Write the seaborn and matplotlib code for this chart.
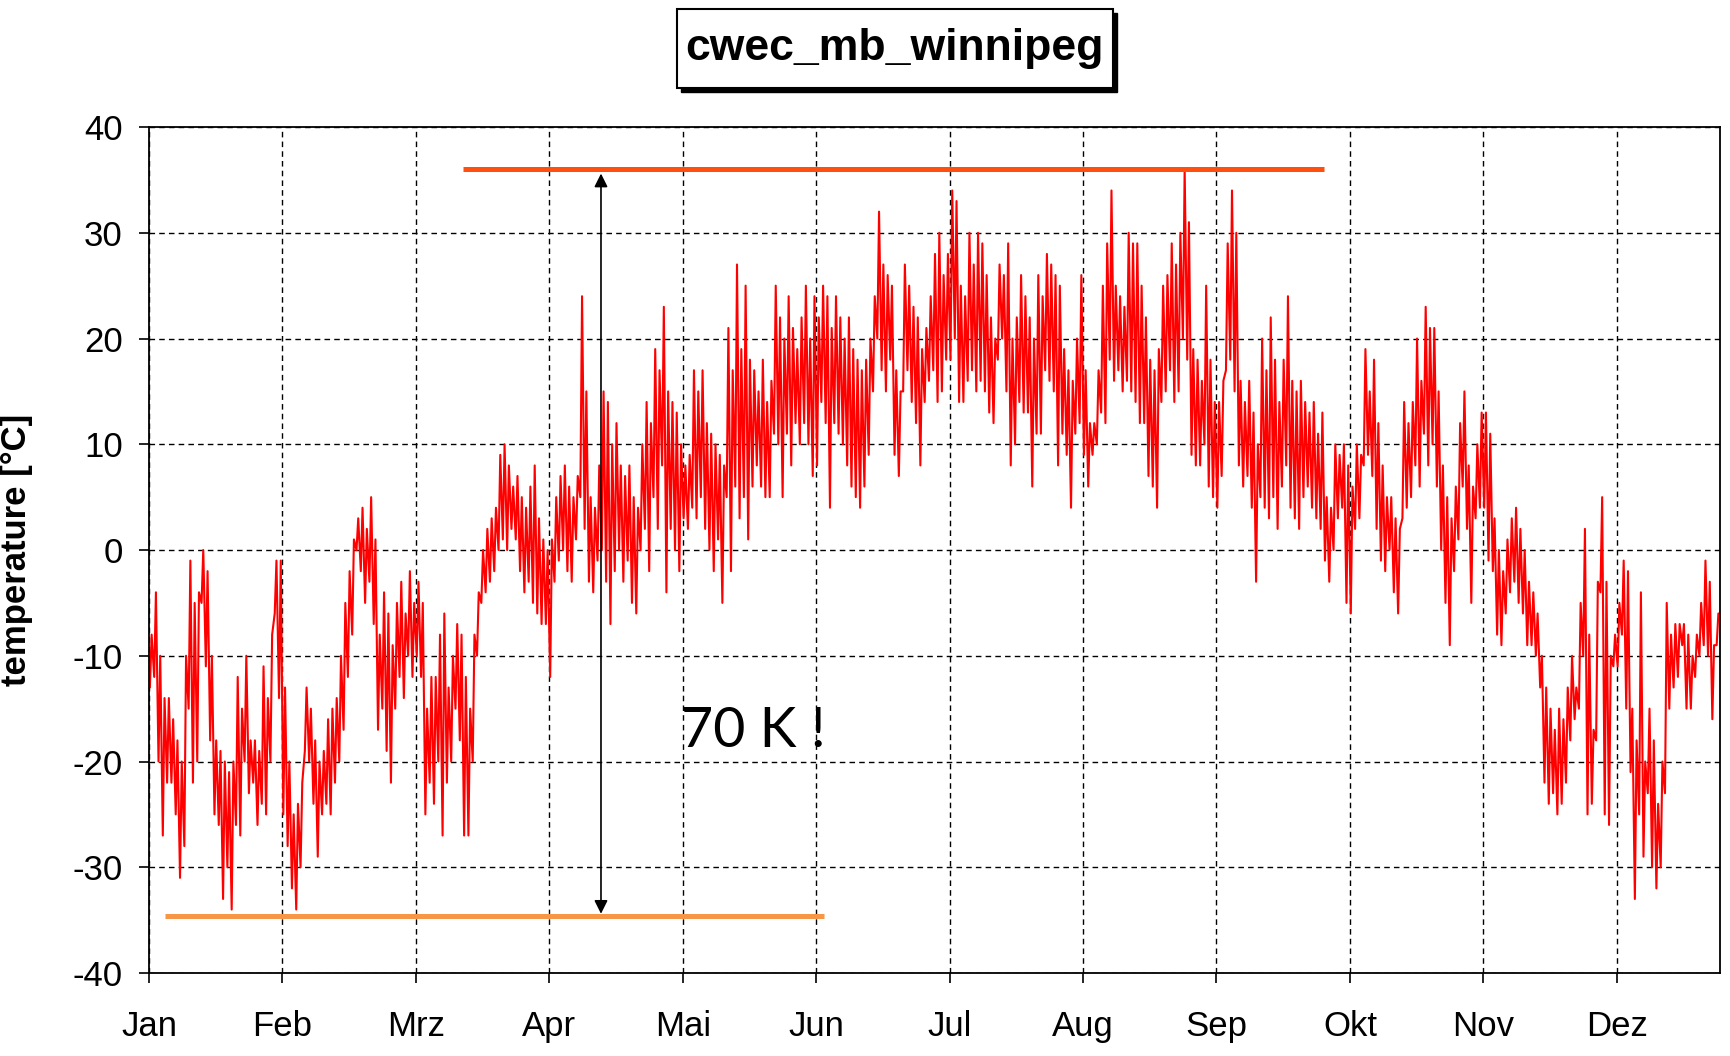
import numpy as np
import pandas as pd
import matplotlib
matplotlib.use("Agg")
import matplotlib.pyplot as plt
import seaborn as sns
from matplotlib.patches import Rectangle

# Station and annotation text
title = 'cwec_mb_winnipeg'
range_label = '70 K !'

# x axis: one tick every 31 days, labelled with the month names
month_labels = ['Jan', 'Feb', 'Mrz', 'Apr', 'Mai', 'Jun',
                'Jul', 'Aug', 'Sep', 'Okt', 'Nov', 'Dez']
month_starts = [0, 31, 62, 93, 124, 155, 186, 217, 248, 279, 310, 341]

# daily maximum temperature [°C] (one row per 31-day block)
temp_hi = [
    -8, -4, -10, -14, -14, -16, -18, -20, -10, -1, -5, -4, 0, -2, -10, -18, -19, -20, -21, -20, -12, -15, -10, -18, -18, -19, -11, -14, -8, -1, -1,
    -13, -20, -25, -24, -22, -13, -15, -18, -20, -19, -16, -15, -14, -10, -5, -2, 1, 3, 4, 2, 5, 1, -8, -4, -6, -9, -5, -3, -6, -2, -5,
    -3, -5, -15, -12, -12, -8, -6, -13, -10, -7, -8, -12, -15, -8, -4, 0, 2, 3, 4, 9, 10, 8, 6, 7, 5, 4, 6, 8, 3, 1, 0,
    1, 5, 7, 8, 6, 5, 7, 24, 15, 5, 4, 8, 15, 14, 10, 12, 8, 7, 8, 5, 4, 10, 14, 12, 19, 17, 23, 15, 14, 13, 10,
    8, 9, 17, 15, 17, 12, 11, 10, 9, 8, 21, 17, 27, 19, 25, 18, 17, 15, 18, 14, 16, 25, 22, 20, 24, 21, 19, 22, 25, 20, 24,
    22, 25, 24, 21, 24, 22, 20, 22, 19, 18, 17, 18, 20, 24, 32, 27, 26, 25, 17, 15, 27, 25, 23, 22, 19, 21, 24, 28, 30, 26, 28,
    34, 33, 25, 24, 30, 27, 30, 29, 26, 22, 20, 27, 26, 29, 20, 22, 26, 24, 22, 20, 26, 24, 28, 27, 26, 25, 19, 17, 16, 20, 26,
    17, 12, 12, 17, 25, 29, 34, 25, 24, 23, 30, 29, 29, 25, 22, 18, 17, 19, 25, 26, 29, 27, 30, 36, 31, 19, 18, 16, 25, 18, 14,
    14, 16, 29, 34, 30, 16, 14, 16, 13, 10, 20, 17, 22, 18, 14, 18, 24, 16, 15, 16, 14, 13, 14, 11, 13, 5, 4, 10, 9, 10, 8,
    6, 10, 9, 19, 15, 18, 12, 8, 5, 5, 3, 2, 14, 12, 14, 20, 16, 23, 21, 21, 15, 8, 5, 3, 6, 12, 15, 8, 6, 10, 13,
    13, 11, 3, 0, -2, 1, 3, 4, 2, 0, -3, -4, -6, -10, -13, -15, -17, -15, -16, -13, -10, -13, -5, 2, -8, -17, -3, 5, -3, -10, -8,
    -5, -1, -2, -15, -18, -4, -20, -15, -18, -24, -20, -5, -8, -7, -7, -7, -8, -10, -8, -5, -1, -3, -9, -6,
]

# daily minimum temperature [°C]
temp_lo = [
    -13, -12, -20, -27, -22, -22, -25, -31, -28, -15, -22, -20, -5, -11, -18, -25, -26, -33, -30, -34, -26, -27, -20, -23, -22, -26, -24, -25, -20, -6, -14,
    -25, -28, -32, -34, -30, -19, -20, -24, -29, -25, -24, -25, -22, -20, -17, -12, -8, 0, -2, -5, -3, -7, -17, -15, -19, -22, -15, -12, -14, -10, -12,
    -10, -12, -25, -22, -24, -20, -27, -22, -20, -15, -18, -27, -27, -20, -10, -5, -4, -3, -2, 0, 1, 0, 2, 1, -2, -4, -3, -5, -6, -7, -7,
    -12, -3, -1, 0, -2, -3, 1, 5, 2, -3, -4, -1, 0, -3, -7, -2, 0, -3, -1, -5, -6, 0, 2, -2, 5, 2, 8, -4, 2, 0, -2,
    3, 2, 4, 3, 5, 2, 0, -2, 1, -5, 5, -2, 6, 3, 5, 1, 6, 8, 6, 5, 5, 11, 10, 5, 11, 8, 12, 10, 12, 10, 7,
    8, 14, 12, 4, 12, 11, 10, 8, 6, 5, 4, 6, 9, 15, 20, 17, 15, 18, 9, 7, 15, 17, 14, 12, 8, 14, 16, 17, 14, 15, 18,
    18, 20, 14, 14, 16, 17, 15, 16, 15, 13, 12, 18, 20, 15, 8, 10, 14, 13, 13, 6, 11, 11, 17, 16, 15, 8, 11, 9, 4, 11, 12,
    9, 6, 9, 10, 13, 12, 18, 16, 17, 15, 16, 15, 14, 12, 12, 7, 6, 4, 14, 15, 17, 14, 15, 20, 18, 9, 8, 8, 10, 6, 5,
    4, 7, 17, 18, 15, 8, 6, 7, 4, -3, 5, 4, 3, 5, 2, 6, 8, 4, 3, 2, 5, 6, 4, 3, 2, -1, -3, 0, 3, 4, -5,
    -6, 2, 3, 8, 9, 7, 2, -1, -2, 0, -4, -6, 3, 4, 5, 8, 6, 11, 8, 10, 6, 0, -5, -9, -2, 1, 6, 2, -5, 3, 4,
    4, -1, -2, -8, -9, -6, -4, -3, -5, -6, -9, -9, -10, -13, -22, -24, -23, -25, -24, -22, -18, -16, -15, -10, -25, -24, -18, -4, -25, -26, -11,
    -11, -8, -15, -21, -33, -25, -29, -23, -30, -32, -30, -23, -15, -13, -12, -9, -15, -15, -12, -10, -9, -10, -16, -9,
]

# annual extremes marked on the chart
max_temp = 36.0
min_temp = -34.6

# zigzag: minimum early in the day, maximum in the afternoon
days = np.arange(len(temp_hi))
x = np.column_stack([days + 0.2, days + 0.6]).ravel()
y = np.column_stack([temp_lo, temp_hi]).ravel()
df = pd.DataFrame({'day': x, 'temperature': y})

sns.set_style('white')
plt.rcParams['font.family'] = ['Liberation Sans', 'DejaVu Sans']
plt.rcParams['axes.unicode_minus'] = False
plt.rcParams['text.color'] = 'black'
plt.rcParams['axes.labelcolor'] = 'black'

fig = plt.figure(figsize=(17.31, 10.56), dpi=100)
ax = fig.add_axes([0.0861, 0.0786, 0.9076, 0.8011])

sns.lineplot(data=df, x='day', y='temperature', color='#ff0000', linewidth=1.5,
             estimator=None, sort=False, ax=ax)

ax.set_xlim(0, 365)
ax.set_ylim(-40, 40)
ax.set_xticks(month_starts, month_labels)
ax.set_yticks(range(-40, 41, 10))
ax.tick_params(axis='both', labelsize=25, length=7, width=1.2, color='black',
               bottom=True, left=True, labelcolor='black')
ax.tick_params(axis='x', pad=20)
ax.tick_params(axis='y', pad=12)
ax.grid(True, color='black', linestyle=(0, (4, 3)), linewidth=1.0)
for side in ax.spines.values():
    side.set_color('black')
    side.set_linewidth(1.3)

ax.set_xlabel('')
ax.set_ylabel('temperature [°C]', fontsize=25, fontweight='bold', color='black')
ax.yaxis.set_label_coords(-0.0738, 0.5)

# range markers and arrow
ax.plot([73, 273], [max_temp, max_temp], color='#ff4f0f', linewidth=3.6,
        solid_capstyle='butt')
ax.plot([3.8, 156.8], [min_temp, min_temp], color='#f79646', linewidth=3.6,
        solid_capstyle='butt')
ax.annotate('', xy=(105, max_temp - 0.4), xytext=(105, min_temp + 0.2),
            arrowprops=dict(arrowstyle='<|-|>', color='black', lw=1.2,
                            mutation_scale=20, shrinkA=0, shrinkB=0))
ax.text(123.5, -17.2, range_label, fontsize=40, va='center', ha='left',
        color='black', family=['Lato', 'DejaVu Sans'])

# boxed title with drop shadow
fig.patches.append(Rectangle((0.3934, 0.9129), 0.252, 0.0748, transform=fig.transFigure,
                             facecolor='black', edgecolor='black', zorder=1))
fig.patches.append(Rectangle((0.391, 0.9167), 0.252, 0.0748, transform=fig.transFigure,
                             facecolor='white', edgecolor='black', linewidth=1.5, zorder=2))
fig.text(0.517, 0.954, title, ha='center', va='center', fontsize=32,
         fontweight='bold', color='black', zorder=3)

fig.savefig('out.png', dpi=100)
